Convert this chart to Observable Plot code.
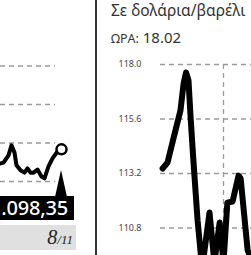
<!DOCTYPE html>
<html><head><meta charset="utf-8">
<script src="https://cdn.jsdelivr.net/npm/d3@7"></script>
<script src="https://cdn.jsdelivr.net/npm/@observablehq/plot@0.6"></script>
<style>
body{margin:0;background:#fff;}
#wrap{position:relative;width:251px;height:255px;overflow:hidden;background:#fff;font-family:"Noto Sans",sans-serif;}
#wrap svg{position:absolute;top:0;}
.abs{position:absolute;white-space:nowrap;}
</style></head>
<body><div id="wrap"></div>
<script>
// ---- data ----
const leftTimes  = [0,1.5,4,5.5,7,8,10,12,13.5,15,16.5,18.5,20.5,22,24,26,28.5,30.5];
const leftValues = [1094.7,1094.9,1096.8,1099.4,1097.5,1094.2,1092.9,1092.3,1093.4,1092.3,1092.3,1093.1,1091.3,1090.8,1093.9,1096.0,1097.8,1098.35];
const leftTicks  = [1090,1100,1110,1120];
const leftDate   = ["8","/11"];

const rightTitle = "Σε δολάρια/βαρέλι";
const rightTimeLabel = "ΩΡΑ:";
const rightTime  = "18.02";
const rightTimes  = [0.6,2.0,3.7,5.7,6.6,7.3,8.0,8.6,9.4,10.6,11.9,14.0,15.4,16.9,18.0,19.1,20.6,22.3,22.9,24.9,26];
const rightValues = [113.42,113.68,114.74,115.97,117.16,117.65,117.3,115.67,113.77,111.13,109.02,111.48,109.28,111.04,109.28,111.92,111.97,113.11,112.98,109.81,109.46];
const rightTicks  = [110.8,113.2,115.6,118.0];
const dayBreaks   = [18];

const wrap = document.getElementById("wrap");
const grid = {stroke:"#9a9a9a", strokeOpacity:1, strokeWidth:1.3, strokeDasharray:"5,4"};
const left = leftTimes.map((t,i)=>({t, v:leftValues[i]}));
const right = rightTimes.map((t,i)=>({t, v:rightValues[i]}));

// ---- left panel ----
const lp = Plot.plot({
  width:96, height:255, marginLeft:0, marginRight:35, marginTop:0, marginBottom:0,
  style:{background:"transparent", overflow:"hidden"},
  x:{domain:[0,30.5], axis:null},
  y:{domain:[1070.78,1137.01], axis:null},
  marks:[
    Plot.gridY(leftTicks, {...grid, insetRight:6}),
    Plot.line(left, {x:"t", y:"v", stroke:"#000", strokeWidth:4, strokeLinejoin:"round", strokeLinecap:"round"}),
    Plot.dot(left.slice(-1), {x:"t", y:"v", r:5, fill:"#fff", stroke:"#000", strokeWidth:2.5})
  ]
});
lp.style.left = "0px";
wrap.appendChild(lp);

// label box, pointer and date
const fmt = d3.formatLocale({decimal:",", thousands:".", grouping:[3], currency:["","€"]}).format(",.2f");
const tri = document.createElement("div");
tri.className="abs";
Object.assign(tri.style,{left:"55px",top:"170px",width:"0",height:"0",borderLeft:"6.5px solid transparent",borderRight:"6.5px solid transparent",borderBottom:"27px solid #000"});
wrap.appendChild(tri);
const box = document.createElement("div");
box.className="abs";
Object.assign(box.style,{left:"-40px",top:"196px",width:"114px",height:"24px",background:"#000",color:"#fff",fontSize:"20px",fontWeight:"500",lineHeight:"24px",textAlign:"right",boxSizing:"border-box",letterSpacing:"-0.2px"});
box.innerHTML = `<span style="padding-right:6px">${fmt(leftValues[leftValues.length-1])}</span>`;
wrap.appendChild(box);
const dbox = document.createElement("div");
dbox.className="abs";
Object.assign(dbox.style,{left:"-10px",top:"225px",width:"86px",height:"25px",background:"#e0e0e0",color:"#222",fontFamily:"'Liberation Serif',serif",fontStyle:"italic",textAlign:"right",lineHeight:"25px"});
dbox.innerHTML = `<span style="font-size:20px">${leftDate[0]}</span><span style="font-size:13px;padding-right:3px">${leftDate[1]}</span>`;
wrap.appendChild(dbox);

// divider
const div = document.createElement("div");
div.className="abs";
Object.assign(div.style,{left:"95px",top:"0",width:"2px",height:"255px",background:"#333"});
wrap.appendChild(div);

// ---- right panel ----
const rp = Plot.plot({
  width:151, height:255, marginLeft:60, marginRight:0, marginTop:64, marginBottom:0,
  style:{background:"transparent", overflow:"hidden", fontFamily:"'Noto Sans',sans-serif"},
  x:{domain:[0,26], axis:null},
  y:{domain:[109.59,118.0], axis:null},
  marks:[
    Plot.gridY(rightTicks, grid),
    Plot.ruleX(dayBreaks, grid),
    Plot.axisY(rightTicks, {tickSize:0, tickPadding:19, tickFormat:d=>d.toFixed(1), fontSize:9, color:"#444", label:null}),
    Plot.line(right, {x:"t", y:"v", stroke:"#000", strokeWidth:6, strokeLinejoin:"round", strokeLinecap:"round"})
  ]
});
rp.style.left = "100px";
wrap.appendChild(rp);

const title = document.createElement("div");
title.className="abs";
Object.assign(title.style,{left:"111px",top:"0px",fontSize:"15.5px",color:"#333",lineHeight:"21px"});
title.textContent = rightTitle;
wrap.appendChild(title);
const sub = document.createElement("div");
sub.className="abs";
Object.assign(sub.style,{left:"111px",top:"27px",color:"#333",lineHeight:"20px",fontWeight:"400"});
sub.innerHTML = `<span style="font-size:12.5px">${rightTimeLabel}</span><span style="font-size:15px"> ${rightTime}</span>`;
wrap.appendChild(sub);
</script></body></html>
